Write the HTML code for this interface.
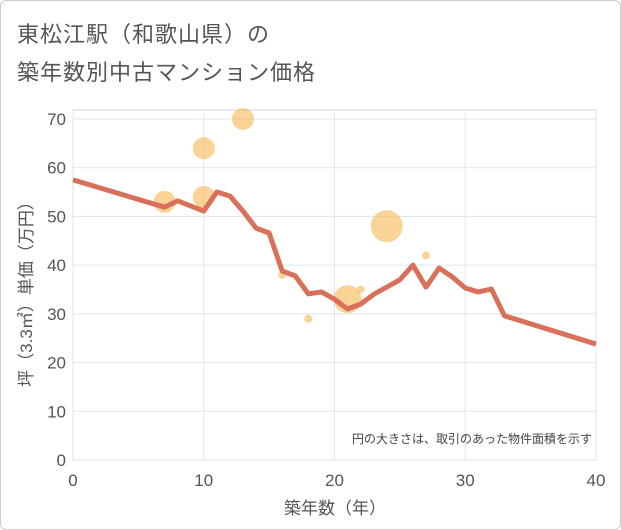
<!DOCTYPE html>
<html><head><meta charset="utf-8"><style>
body{margin:0;background:#fff;font-family:"Liberation Sans","Noto Sans CJK JP",sans-serif;}
#wrap{position:relative;width:619px;height:528px;border:1px solid #ccc;border-radius:6px;background:#fff;}
.title{position:absolute;left:16px;font-size:22px;color:#555;letter-spacing:1px;}
</style></head><body>
<div id="wrap">
<div class="title" style="top:16px">東松江駅（和歌山県）の</div>
<div class="title" style="top:54px">築年数別中古マンション価格</div>
<svg id="chart" width="621" height="530" style="position:absolute;left:-1px;top:-1px"></svg>
</div>
<script>
const lineYears=[0,7,8,10,11,12,13,14,15,16,17,18,19,20,21,22,23,24,25,26,27,28,29,30,31,32,33,40];
const linePrices=[57.5,51.9,53.2,51.1,55,54.2,51.1,47.6,46.6,38.8,37.8,34.1,34.5,33,31,32,34,35.5,37,40,35.5,39.4,37.6,35.3,34.5,35.1,29.6,23.8];
const bubbleYears=[7,10,10,13,16,18,21,22,24,27];
const bubblePrices=[53,64,54,70,38,29,33,35,48,42];
const bubbleSizes=[11,11,11,11,4,4,14,4,16,4];
const xTicks=[0,10,20,30,40];
const yTicks=[0,10,20,30,40,50,60,70];
const NS="http://www.w3.org/2000/svg";
const svg=document.getElementById('chart');
const L=73,R=596,T=110,B=460;
const xs=v=>L+(R-L)*v/40;
const ys=v=>B-(B-119)*v/70;
function mk(t,a){const e=document.createElementNS(NS,t);for(const k in a)e.setAttribute(k,a[k]);svg.appendChild(e);return e;}
const bg=mk('rect',{x:L,y:T,width:R-L,height:B-T,fill:'#fff',stroke:'#ccd6e0'});


xTicks.forEach(v=>{const g=mk('line',{x1:xs(v),x2:xs(v),y1:T,y2:B,stroke:'#dde5ee'});

});
yTicks.forEach(v=>{const g=mk('line',{x1:L,x2:R,y1:ys(v),y2:ys(v),stroke:'#dde5ee'});

});
xTicks.forEach(v=>{const t=mk('text',{x:xs(v),y:486,'text-anchor':'middle','font-size':17,fill:'#555'});t.textContent=v;

});
yTicks.forEach(v=>{const t=mk('text',{x:66,y:ys(v)+6,'text-anchor':'end','font-size':17,fill:'#555'});t.textContent=v;

});
bubbleYears.forEach((y,i)=>{const c=mk('circle',{cx:xs(y),cy:ys(bubblePrices[i]),r:bubbleSizes[i],fill:'#f5b041','fill-opacity':0.55});

});
const pl=mk('polyline',{points:lineYears.map((y,i)=>xs(y)+','+ys(linePrices[i])).join(' '),fill:'none',stroke:'#d9705a','stroke-width':5,'stroke-linejoin':'round'});


const note=mk('text',{x:592,y:443,'text-anchor':'end','font-size':12,fill:'#444'});note.textContent='円の大きさは、取引のあった物件面積を示す';


const xt=mk('text',{x:335,y:514,'text-anchor':'middle','font-size':17,fill:'#555'});xt.textContent='築年数（年）';


const yt=mk('text',{x:0,y:0,'text-anchor':'middle','font-size':17,fill:'#555',transform:'translate(32,290) rotate(-90)'});yt.textContent='坪（3.3㎡）単価（万円）';


</script>
</body></html>
